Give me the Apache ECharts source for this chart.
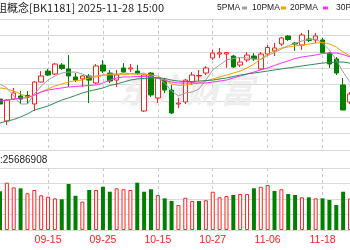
<!DOCTYPE html>
<html><head><meta charset="utf-8">
<script src="https://cdn.jsdelivr.net/npm/echarts@6/dist/echarts.min.js"></script>
<style>html,body{margin:0;padding:0;background:#fff}#c{width:350px;height:250px}</style>
</head><body><div id="c"></div>
<script>
const dates = ['09-04','09-05','09-08','09-09','09-10','09-11','09-12','09-15','09-16','09-17',
  '09-18','09-19','09-22','09-23','09-24','09-25','09-26','09-29','09-30','10-09',
  '10-10','10-13','10-14','10-15','10-16','10-17','10-20','10-21','10-22','10-23',
  '10-24','10-27','10-28','10-29','10-30','10-31','11-03','11-04','11-05','11-06',
  '11-07','11-10','11-11','11-12','11-13','11-14','11-17','11-18','11-19','11-20',
  '11-21','11-24'];
const open = [1031.1,1017.7,1031.1,1033.0,1033.3,1028.1,1041.5,1048.2,1046.4,1051.9,
  1049.5,1044.6,1043.4,1045.2,1040.9,1051.9,1047.0,1042.7,1050.1,1049.5,
  1048.2,1023.8,1047.0,1031.8,1042.7,1036.6,1028.1,1029.3,1041.5,1045.2,
  1047.0,1056.2,1058.6,1058.6,1057.4,1051.9,1055.0,1057.4,1049.5,1058.6,
  1060.5,1064.7,1069.6,1065.3,1064.1,1067.8,1067.2,1067.2,1059.2,1055.6,
  1039.7,1029.3];
const close = [1028.1,1030.5,1034.8,1031.1,1032.4,1041.5,1045.2,1045.8,1052.5,1049.8,
  1045.2,1042.7,1045.2,1042.7,1051.3,1048.2,1042.1,1045.8,1047.6,1050.1,
  1046.7,1045.8,1033.6,1044.0,1036.6,1022.6,1028.7,1042.7,1045.8,1045.5,
  1050.1,1059.2,1059.4,1059.5,1050.7,1053.7,1058.0,1055.6,1058.6,1062.6,
  1062.3,1068.4,1067.5,1064.7,1070.2,1066.9,1069.6,1059.5,1052.5,1047.0,
  1024.4,1034.2];
const low = [1026.9,1015.3,1030.5,1028.1,1028.1,1023.8,1041.2,1045.2,1045.8,1048.9,
  1038.5,1041.5,1038.5,1028.7,1040.3,1047.0,1040.9,1038.5,1047.0,1047.6,
  1045.8,1023.2,1032.4,1028.7,1034.8,1022.0,1025.6,1028.1,1039.7,1042.1,
  1045.8,1055.0,1056.2,1050.1,1050.1,1050.7,1053.7,1054.4,1048.9,1057.4,
  1057.4,1063.5,1066.6,1060.5,1061.1,1066.0,1065.3,1059.2,1050.1,1045.8,
  1024.4,1028.1];
const high = [1032.4,1031.1,1037.9,1036.0,1036.0,1042.1,1048.2,1049.5,1053.1,1053.1,
  1058.0,1047.0,1045.8,1046.4,1052.5,1055.0,1048.9,1048.9,1053.1,1052.5,
  1051.9,1046.4,1047.6,1044.6,1044.0,1039.7,1031.8,1043.4,1047.6,1048.9,
  1051.3,1061.1,1062.3,1059.8,1058.0,1056.8,1059.8,1059.2,1059.8,1064.1,
  1065.3,1069.0,1070.2,1066.0,1071.5,1073.3,1071.5,1068.4,1059.8,1056.8,
  1044.0,1035.4];
const volume = [25000000,30500000,27500000,26900000,23700000,25800000,22400000,21500000,20400000,19800000,
  29700000,22100000,18300000,25800000,25800000,27900000,24700000,26900000,26300000,25800000,
  30500000,24700000,26300000,22600000,20400000,18700000,16100000,20800000,18700000,18700000,
  19200000,24700000,21100000,21900000,22600000,23200000,23200000,26900000,27900000,29000000,
  25200000,26300000,23200000,22600000,21100000,21100000,20400000,20400000,19400000,16100000,
  24700000,20400000];
const ma5 = [1040.3,1037.9,1033.0,1028.1,1028.1,1034.2,1039.1,1042.7,1045.2,1047.0,
  1047.6,1047.6,1046.4,1044.9,1045.2,1045.8,1045.8,1046.1,1047.0,1046.7,
  1046.4,1047.0,1044.6,1044.0,1040.9,1036.0,1033.0,1034.8,1035.4,1037.3,
  1042.7,1048.9,1051.9,1055.0,1055.9,1056.5,1056.2,1055.6,1055.3,1057.7,
  1059.5,1061.7,1063.8,1065.0,1066.6,1067.5,1067.8,1065.3,1061.1,1055.0,
  1047.6,1041.5];
const ma10 = [1037.9,1037.3,1036.0,1034.2,1032.4,1033.3,1035.4,1037.3,1039.1,1040.3,
  1041.5,1042.4,1042.7,1044.0,1044.6,1045.5,1046.4,1046.4,1046.1,1046.4,
  1046.4,1046.4,1045.8,1045.2,1042.7,1040.3,1039.4,1039.7,1040.3,1040.9,
  1042.1,1043.4,1044.6,1045.8,1047.0,1048.2,1050.1,1052.5,1055.6,1058.6,
  1060.5,1062.3,1062.9,1063.5,1064.1,1064.7,1065.3,1065.7,1064.7,1062.9,
  1059.8,1057.4];
const ma20 = [1029.9,1030.5,1031.1,1031.8,1031.8,1033.6,1035.4,1036.6,1037.3,1037.9,
  1038.5,1038.8,1039.1,1039.4,1039.7,1040.9,1042.7,1044.0,1044.6,1044.6,
  1044.9,1044.9,1044.6,1044.0,1042.7,1041.5,1040.9,1040.9,1040.9,1040.9,
  1040.9,1041.5,1042.1,1042.7,1044.0,1045.2,1046.4,1047.6,1048.9,1050.1,
  1051.6,1053.1,1054.4,1055.9,1056.8,1057.4,1058.0,1058.9,1059.2,1059.2,
  1058.3,1056.8];
const ma30 = [1016.5,1017.7,1018.6,1020.2,1022.0,1024.4,1025.6,1026.9,1028.7,1030.5,
  1031.8,1033.3,1034.8,1036.0,1036.9,1037.9,1039.4,1040.3,1041.5,1042.7,
  1043.4,1043.7,1044.0,1044.0,1043.7,1042.7,1042.1,1041.8,1041.8,1042.1,
  1042.4,1042.7,1043.4,1044.0,1044.9,1045.8,1046.4,1047.0,1047.6,1048.2,
  1048.9,1049.5,1050.1,1050.7,1051.3,1051.9,1052.5,1053.1,1053.4,1053.7,
  1053.7,1053.1];
const titleText = '阻概念[BK1181] 2025-11-28 15:00';
const volText = ':25686908';
const maNames = ['5PMA','10PMA','20PMA','30PMA'];
const maColors = ['#a0a0a0','#f5a000','#ff30ff','#2e8b57'];

const RED = '#ff2020', GREEN = '#008000';
const chart = echarts.init(document.getElementById('c'), null, {renderer: 'canvas'});
const labelEvery = (i) => i % 8 === 7;
const candles = dates.map((d, i) => [open[i], close[i], low[i], high[i]]);
const volData = volume.map((v, i) => {
  const up = i === 0 ? close[i] >= open[i] : close[i] >= close[i - 1];
  return {value: v, itemStyle: up ? {color: '#fff', borderColor: RED, borderWidth: 1} : {color: GREEN}};
});
const gridL = -5.7, gridR = -1.3;
const vSplit = {show: true, interval: labelEvery, lineStyle: {color: '#c8c8c8', type: [3, 3], width: 1}};
const hSplit = {show: true, lineStyle: {color: '#dadada', width: 1}};
const font = '"Noto Sans CJK SC", sans-serif';
const smallFont = '8.5px "Liberation Sans", sans-serif';

const legendX = [217, 252, 290, 336];
const markerX = [242, 281, 323];
const graphics = [
  {type: 'text', x: -4, y: 8, z: 10, style: {text: titleText, fill: '#222', font: '11px ' + font, verticalAlign: 'middle'}},
  {type: 'text', x: 0, y: 160, z: 10, style: {text: volText, fill: '#222', font: '10px "Liberation Sans", sans-serif', verticalAlign: 'middle'}},
  {type: 'text', x: 118, y: 90, z: 1, style: {text: '东方财富', fill: '#eeeeee', font: 'italic bold 34px ' + font, verticalAlign: 'middle'}}
];
maNames.forEach((n, k) => {
  graphics.push({type: 'text', x: legendX[k], y: 8, z: 10, style: {text: n, fill: '#222', font: smallFont, verticalAlign: 'middle'}});
  if (k < 3) graphics.push({type: 'rect', z: 10, shape: {x: markerX[k], y: 6.5, width: 5, height: 3}, style: {fill: maColors[k]}});
});

chart.setOption({
  animation: false,
  grid: [
    {left: gridL, right: gridR, top: 19, height: 131},
    {left: gridL, right: gridR, top: 168, height: 62}
  ],
  xAxis: [
    {type: 'category', data: dates, gridIndex: 0, boundaryGap: false,
     axisLine: {show: false}, axisTick: {show: false, interval: labelEvery}, axisLabel: {show: false, interval: labelEvery}, splitLine: vSplit},
    {type: 'category', data: dates, gridIndex: 1, boundaryGap: false,
     axisLine: {show: false}, axisTick: {show: false, interval: labelEvery},
     axisLabel: {interval: labelEvery, color: RED, fontSize: 10.5, margin: 5, fontFamily: '"Liberation Sans", sans-serif'}, splitLine: vSplit}
  ],
  yAxis: [
    {type: 'value', gridIndex: 0, min: 1000, max: 1080, interval: 10,
     axisLabel: {show: false}, axisLine: {show: false}, axisTick: {show: false}, splitLine: hSplit},
    {type: 'value', gridIndex: 1, min: 0, max: 40000000, interval: 10000000,
     axisLabel: {show: false}, axisLine: {show: false}, axisTick: {show: false}, splitLine: hSplit}
  ],
  graphic: graphics,
  series: [
    {type: 'candlestick', xAxisIndex: 0, yAxisIndex: 0, data: candles, barWidth: 5,
     itemStyle: {color: '#fff', color0: GREEN, borderColor: RED, borderColor0: GREEN, borderWidth: 1}},
    {type: 'line', data: ma5, xAxisIndex: 0, yAxisIndex: 0, symbol: 'none', lineStyle: {color: maColors[0], width: 1}},
    {type: 'line', data: ma10, xAxisIndex: 0, yAxisIndex: 0, symbol: 'none', lineStyle: {color: maColors[1], width: 1}},
    {type: 'line', data: ma20, xAxisIndex: 0, yAxisIndex: 0, symbol: 'none', lineStyle: {color: maColors[2], width: 1}},
    {type: 'line', data: ma30, xAxisIndex: 0, yAxisIndex: 0, symbol: 'none', lineStyle: {color: maColors[3], width: 1}},
    {type: 'bar', data: volData, xAxisIndex: 1, yAxisIndex: 1, barWidth: 4}
  ]
});
</script></body></html>
